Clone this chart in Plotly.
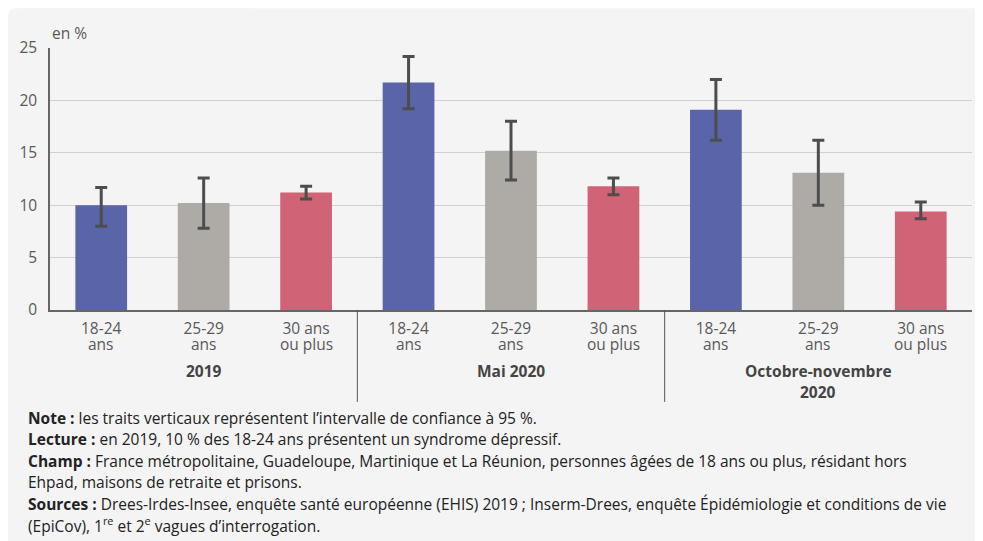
import plotly.graph_objects as go

# ---- data ----
age_line1 = ["18-24", "25-29", "30 ans"] * 3
age_line2 = ["ans", "ans", "ou plus"] * 3
periods = ["2019", "Mai 2020", "Octobre-novembre<br>2020"]
values = [10.0, 10.2, 11.2, 21.7, 15.2, 11.8, 19.1, 13.1, 9.4]
ci_high = [11.7, 12.6, 11.8, 24.2, 18.0, 12.6, 22.0, 16.2, 10.3]
ci_low = [8.0, 7.8, 10.6, 19.2, 12.4, 11.0, 16.2, 10.0, 8.7]
y_ticks = [0, 5, 10, 15, 20, 25]

colors_by_age = ["#5965a8", "#aeaba6", "#d06376"]

x = list(range(len(values)))
err_plus = [h - v for h, v in zip(ci_high, values)]
err_minus = [v - l for l, v in zip(ci_low, values)]
bar_colors = [colors_by_age[i % 3] for i in x]

FONT = "Open Sans"
FS = 15.5
TXT = "#222222"
GREY = "#595959"

fig = go.Figure()
fig.add_trace(go.Bar(
    x=x, y=values, width=0.505,
    marker=dict(color=bar_colors, line=dict(width=0)),
    error_y=dict(type="data", array=err_plus, arrayminus=err_minus,
                 color="#4d4d4d", thickness=3, width=6, visible=True),
    hoverinfo="y",
))

# figure geometry (pixels, figure coordinates; page adds 8px body margin)
W, H = 983, 541
L, R, T, B = 42, 964, 39.7, 302
pw, ph = R - L, B - T

def px(xp):
    return (xp - L) / pw

def py(yp):
    return (B - yp) / ph

shapes = []
# rounded card background
x0, x1 = px(0), px(975)
y0, y1 = py(541), py(0)
rx, ry = 9 / pw, 9 / ph
path = (f"M {x0+rx},{y1} L {x1-rx},{y1} Q {x1},{y1} {x1},{y1-ry} L {x1},{y0+ry} "
        f"Q {x1},{y0} {x1-rx},{y0} L {x0+rx},{y0} "
        f"Q {x0},{y0} {x0},{y0+ry} L {x0},{y1-ry} Q {x0},{y1} {x0+rx},{y1} Z")
shapes.append(dict(type="path", path=path, xref="paper", yref="paper",
                   fillcolor="#f4f4f4", line=dict(width=0), layer="below"))
# group separators
for sx in [2.5, 5.5]:
    shapes.append(dict(type="line", xref="x", yref="paper", x0=sx, x1=sx,
                       y0=0, y1=py(394), line=dict(color="#555555", width=1)))

annotations = []
annotations.append(dict(text="en %", xref="paper", yref="paper", x=px(42), y=py(25),
                        xanchor="left", yanchor="middle", showarrow=False,
                        font=dict(family=FONT, size=FS, color=GREY)))
# second line of category labels
for xi, lab in zip(x, age_line2):
    annotations.append(dict(text=lab, xref="x", yref="paper", x=xi, y=py(336.5),
                            xanchor="center", yanchor="middle", showarrow=False,
                            font=dict(family=FONT, size=FS, color=GREY)))
# period labels
for i, p in enumerate(periods):
    for j, line in enumerate(p.split("<br>")):
        annotations.append(dict(text=f"<b>{line}</b>", xref="x", yref="paper", x=i * 3 + 1,
                                y=py(363 + 21 * j), xanchor="center", yanchor="middle",
                                showarrow=False,
                                font=dict(family=FONT, size=FS, color="#444444")))

notes = [
    ("Note :", " les traits verticaux représentent l’intervalle de confiance à 95 %.", 410),
    ("Lecture :", " en 2019, 10 % des 18-24 ans présentent un syndrome dépressif.", 431.5),
    ("Champ :", " France métropolitaine, Guadeloupe, Martinique et La Réunion, personnes âgées de 18 ans ou plus, résidant hors", 453),
    ("", "Ehpad, maisons de retraite et prisons.", 474),
    ("Sources :", " Drees-Irdes-Insee, enquête santé européenne (EHIS) 2019 ; Inserm-Drees, enquête Épidémiologie et conditions de vie", 496),
    ("", "(EpiCov), 1<sup>re</sup> et 2<sup>e</sup> vagues d’interrogation.", 517),
]
for b, t, yy in notes:
    txt = (f"<b>{b}</b>" if b else "") + t
    annotations.append(dict(text=txt, xref="paper", yref="paper", x=px(18), y=py(yy),
                            xanchor="left", yanchor="middle", showarrow=False, align="left",
                            font=dict(family=FONT, size=FS, color=TXT)))

fig.update_layout(
    width=W, height=H,
    margin=dict(l=L, r=W - R, t=T, b=H - B, pad=0),
    paper_bgcolor="white",
    plot_bgcolor="rgba(0,0,0,0)",
    showlegend=False,
    font=dict(family=FONT, size=FS, color=GREY),
    xaxis=dict(
        tickmode="array", tickvals=x, ticktext=age_line1,
        range=[-0.5, 8.5], showgrid=False, zeroline=False,
        showline=True, linecolor="#666666", linewidth=1.5,
        ticks="", ticklabelstandoff=4,
        tickfont=dict(family=FONT, size=FS, color=GREY),
        fixedrange=True,
    ),
    yaxis=dict(
        tickmode="array", tickvals=y_ticks, range=[0, 25],
        showgrid=True, gridcolor="#d0d0d0", gridwidth=1, zeroline=False,
        showline=True, linecolor="#666666", linewidth=1.5,
        ticks="", ticklabelstandoff=8,
        tickfont=dict(family=FONT, size=FS, color=GREY),
        fixedrange=True,
    ),
    shapes=shapes,
    annotations=annotations,
)

fig.write_html("out.html")
